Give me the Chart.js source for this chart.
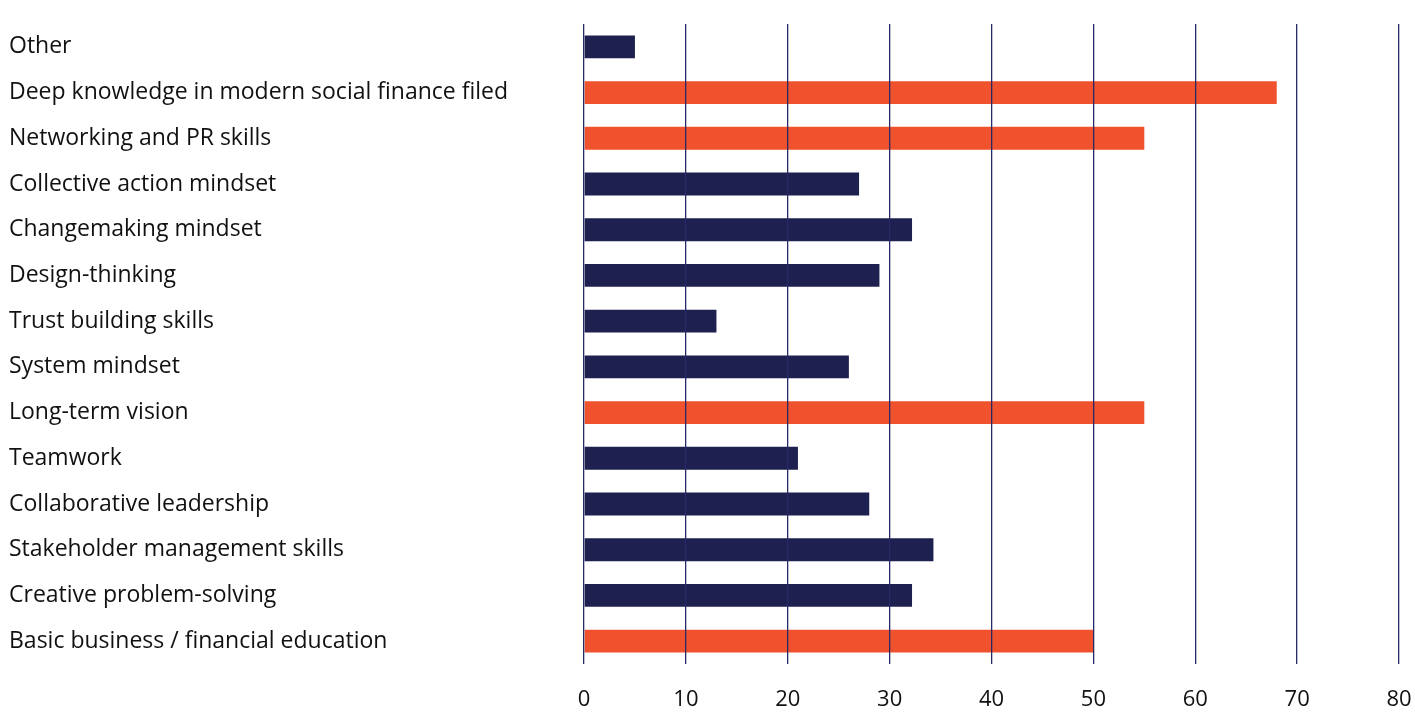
<!DOCTYPE html>
<html>
<head>
<meta charset="utf-8">
<script src="https://cdn.jsdelivr.net/npm/chart.js@4.4.0/dist/chart.umd.min.js"></script>
<style>
  html, body { margin: 0; padding: 0; background: #fff; }
  #wrap { width: 1415px; height: 713px; }
</style>
</head>
<body>
<div id="wrap"><canvas id="myChart"></canvas></div>
<script>
const labels = [
  "Other",
  "Deep knowledge in modern social finance filed",
  "Networking and PR skills",
  "Collective action mindset",
  "Changemaking mindset",
  "Design-thinking",
  "Trust building skills",
  "System mindset",
  "Long-term vision",
  "Teamwork",
  "Collaborative leadership",
  "Stakeholder management skills",
  "Creative problem-solving",
  "Basic business / financial education",
];

const values = [5, 68, 55, 27, 32.2, 29, 13, 26, 55, 21, 28, 34.3, 32.2, 50];

// categories drawn in orange
const highlighted = [
  "Deep knowledge in modern social finance filed",
  "Networking and PR skills",
  "Long-term vision",
  "Basic business / financial education",
];

const xTicks = [0, 10, 20, 30, 40, 50, 60, 70, 80];

const navy = "#1e2050";
const orange = "#f0522e";
const fontFamily = "'Open Sans', Lato, sans-serif";

const ctx = document.getElementById("myChart");

const myChart = new Chart(ctx, {
  type: "bar",
  data: {
    labels: labels,
    datasets: [
      {
        data: values,
        backgroundColor: labels.map((l) => (highlighted.includes(l) ? orange : navy)),
        borderWidth: 0,
        barPercentage: 0.5,
        categoryPercentage: 1,
      },
    ],
  },
  options: {
    indexAxis: "y",
    responsive: true,
    maintainAspectRatio: false,
    animation: false,
    layout: {
      padding: { left: 9, top: 24, right: 16, bottom: 0 },
    },
    plugins: {
      legend: { display: false },
      tooltip: { enabled: false },
    },
    scales: {
      x: {
        min: 0,
        max: 80,
        afterBuildTicks: (scale) => {
          scale.ticks = xTicks.map((v) => ({ value: v }));
        },
        afterFit: (scale) => {
          scale.height = 49;
          scale.paddingRight = 0;
          scale.paddingLeft = 0;
        },
        border: { display: false },
        grid: {
          color: "#272a66",
          lineWidth: 1.3,
          drawTicks: false,
          z: 1,
        },
        ticks: {
          color: "#111",
          padding: 23,
          maxRotation: 0,
          font: { family: fontFamily, size: 22 },
        },
      },
      y: {
        afterFit: (scale) => {
          scale.width = 575;
        },
        border: { display: false },
        grid: { display: false },
        ticks: {
          color: "#111",
          crossAlign: "far",
          autoSkip: false,
          font: { family: fontFamily, size: 23 },
        },
      },
    },
  },
});
</script>
</body>
</html>
